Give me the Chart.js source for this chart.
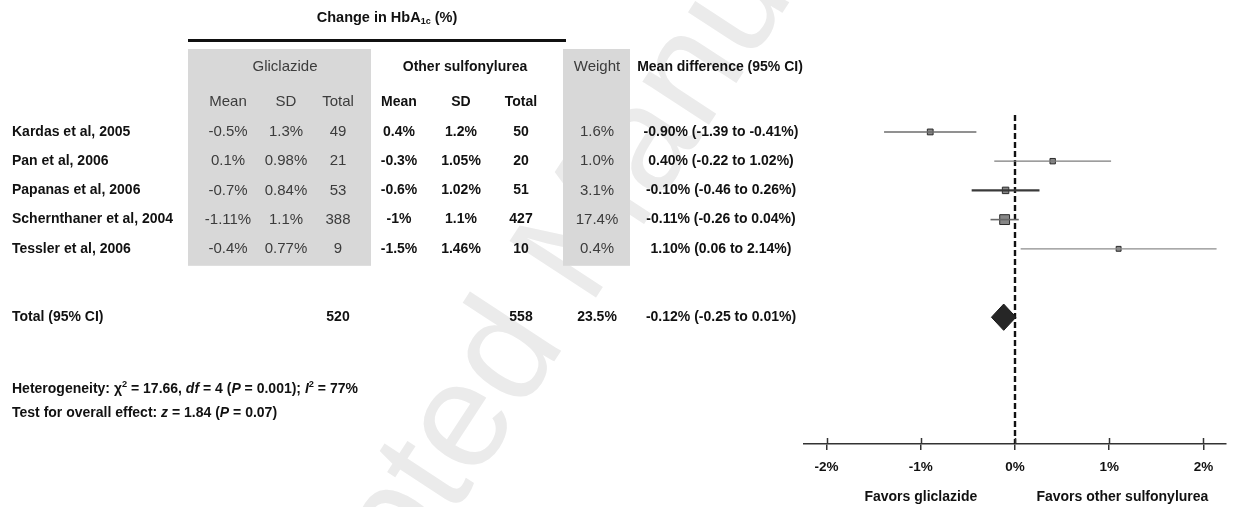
<!DOCTYPE html>
<html>
<head>
<meta charset="utf-8">
<script src="https://cdn.jsdelivr.net/npm/chart.js@4.4.1/dist/chart.umd.min.js"></script>
<style>
  html, body { margin: 0; padding: 0; background: #fff; }
  #wrap { width: 1234px; height: 507px; position: relative; }
</style>
</head>
<body>
<div id="wrap"><canvas id="forest"></canvas></div>
<script>
// ---- study data: change in HbA1c, gliclazide vs other sulfonylurea ----
const studies   = ['Kardas et al, 2005', 'Pan et al, 2006', 'Papanas et al, 2006', 'Schernthaner et al, 2004', 'Tessler et al, 2006'];
const gliMean   = ['-0.5%', '0.1%', '-0.7%', '-1.11%', '-0.4%'];
const gliSd     = ['1.3%', '0.98%', '0.84%', '1.1%', '0.77%'];
const gliTotal  = [49, 21, 53, 388, 9];
const othMean   = ['0.4%', '-0.3%', '-0.6%', '-1%', '-1.5%'];
const othSd     = ['1.2%', '1.05%', '1.02%', '1.1%', '1.46%'];
const othTotal  = [50, 20, 51, 427, 10];
const weights   = [1.6, 1.0, 3.1, 17.4, 0.4];
const meanDiff  = [-0.90, 0.40, -0.10, -0.11, 1.10];
const ciLow     = [-1.39, -0.22, -0.46, -0.26, 0.06];
const ciHigh    = [-0.41, 1.02, 0.26, 0.04, 2.14];
const pooledDiff = -0.12;
const pooledLow  = -0.25;
const pooledHigh = 0.01;
const axisTicks  = [-2, -1, 0, 1, 2];

// ---- layout ----
const FAM = '"Liberation Sans", Arial, Helvetica, sans-serif';
const TOTAL_ROW = 6.34;            // row index of the pooled line
const DIAMOND_HALF = 0.45;         // half height of the pooled diamond, in rows
const COL = { name: 12, gMean: 228, gSd: 286, gTot: 338, oMean: 399, oSd: 461, oTot: 521, weight: 597, md: 721 };
const lineStyle = [
  { color: '#6c6c6c', width: 1.6 },
  { color: '#7c7c7c', width: 1.4 },
  { color: '#3a3a3a', width: 2.2 },
  { color: '#686868', width: 1.6 },
  { color: '#8c8c8c', width: 1.3 }
];

const sum = a => a.reduce((s, v) => s + v, 0);
const f2 = v => v.toFixed(2);
const mdLabel = (m, lo, hi) => `${f2(m)}% (${f2(lo)} to ${f2(hi)}%)`;

// confidence interval segments
const ciSets = studies.map((s, i) => ({
  label: s,
  showLine: true,
  data: [{ x: ciLow[i], y: i }, { x: ciHigh[i], y: i }],
  borderColor: lineStyle[i].color,
  borderWidth: lineStyle[i].width,
  pointRadius: 0
}));

// study estimates, square area grows with weight
const estimateSet = {
  label: 'estimate',
  data: studies.map((s, i) => ({ x: meanDiff[i], y: i })),
  pointStyle: 'rect',
  pointRadius: weights.map(w => (4 + 1.4 * Math.sqrt(w)) / Math.SQRT2),
  backgroundColor: '#878787',
  borderColor: '#2b2b2b',
  borderWidth: 1
};

// pooled estimate diamond
const pooledSet = {
  label: 'pooled',
  showLine: true,
  data: [
    { x: pooledLow, y: TOTAL_ROW },
    { x: pooledDiff, y: TOTAL_ROW - DIAMOND_HALF },
    { x: pooledHigh, y: TOTAL_ROW },
    { x: pooledDiff, y: TOTAL_ROW + DIAMOND_HALF },
    { x: pooledLow, y: TOTAL_ROW }
  ],
  fill: 'shape',
  backgroundColor: '#262626',
  borderColor: '#1a1a1a',
  borderWidth: 1,
  pointRadius: 0,
  tension: 0
};

function put(ctx, s, x, y, font, color, align) {
  ctx.font = font;
  ctx.fillStyle = color;
  ctx.textAlign = align || 'left';
  ctx.textBaseline = 'middle';
  ctx.fillText(s, x, y);
}

// draws runs of text with italic / superscript parts
function runs(ctx, parts, x, y, size, color) {
  ctx.fillStyle = color;
  ctx.textAlign = 'left';
  ctx.textBaseline = 'middle';
  for (const p of parts) {
    const sz = p.sup ? size * 0.66 : size;
    ctx.font = (p.it ? 'italic ' : '') + 'bold ' + sz + 'px ' + FAM;
    ctx.fillText(p.t, x, y + (p.sup ? -size * 0.3 : 0));
    x += ctx.measureText(p.t).width;
  }
}

const B = sz => 'bold ' + sz + 'px ' + FAM;
const N = sz => sz + 'px ' + FAM;

const tablePlugin = {
  id: 'forestTable',
  beforeDraw(chart) {
    const ctx = chart.ctx;
    const y = chart.scales.y;
    ctx.save();
    ctx.fillStyle = '#fff';
    ctx.fillRect(0, 0, chart.width, chart.height);
    // watermark
    ctx.save();
    ctx.translate(224, 866);
    ctx.rotate(-56.8 * Math.PI / 180);
    ctx.font = '150px ' + FAM;
    ctx.fillStyle = '#ebebeb';
    ctx.textBaseline = 'alphabetic';
    ctx.fillText('Accepted Manuscript', 0, 0);
    ctx.restore();
    // shaded column blocks
    const boxBottom = y.getPixelForValue(studies.length - 1) + 17;
    ctx.fillStyle = '#d8d8d8';
    ctx.fillRect(188, 49, 183, boxBottom - 49);
    ctx.fillRect(563, 49, 67, boxBottom - 49);
    ctx.restore();
  },
  beforeDatasetsDraw(chart) {
    const ctx = chart.ctx, x = chart.scales.x, a = chart.chartArea;
    const x0 = x.getPixelForValue(0);
    ctx.save();
    ctx.strokeStyle = '#111';
    ctx.lineWidth = 2.4;
    ctx.setLineDash([6, 3]);
    ctx.beginPath();
    ctx.moveTo(x0, a.top);
    ctx.lineTo(x0, a.bottom);
    ctx.stroke();
    ctx.restore();
  },
  afterDraw(chart) {
    const ctx = chart.ctx, y = chart.scales.y, x = chart.scales.x, a = chart.chartArea;
    ctx.save();
    // upper half of the axis tick marks
    ctx.strokeStyle = '#333';
    ctx.lineWidth = 1.5;
    axisTicks.forEach(v => {
      const px = Math.round(x.getPixelForValue(v)) + 0.5;
      ctx.beginPath();
      ctx.moveTo(px, a.bottom - 6);
      ctx.lineTo(px, a.bottom);
      ctx.stroke();
    });

    // title with subscript
    const tSize = 14.5;
    ctx.font = B(tSize);
    const p1 = 'Change in HbA', p2 = '1c', p3 = ' (%)';
    const w1 = ctx.measureText(p1).width, w3 = ctx.measureText(p3).width;
    ctx.font = B(9);
    const w2 = ctx.measureText(p2).width;
    let tx = 387 - (w1 + w2 + w3) / 2;
    put(ctx, p1, tx, 18, B(tSize), '#111');
    put(ctx, p2, tx + w1, 22, B(9), '#111');
    put(ctx, p3, tx + w1 + w2, 18, B(tSize), '#111');
    ctx.fillStyle = '#111';
    ctx.fillRect(188, 39, 378, 3);

    // column headers
    const grey = '#3c3c3c';
    put(ctx, 'Gliclazide', 285, 67, N(15), grey, 'center');
    put(ctx, 'Other sulfonylurea', 465, 67, B(14), '#111', 'center');
    put(ctx, 'Weight', COL.weight, 67, N(15), grey, 'center');
    put(ctx, 'Mean difference (95% CI)', 720, 67, B(14), '#111', 'center');
    put(ctx, 'Mean', COL.gMean, 102, N(15), grey, 'center');
    put(ctx, 'SD', COL.gSd, 102, N(15), grey, 'center');
    put(ctx, 'Total', COL.gTot, 102, N(15), grey, 'center');
    put(ctx, 'Mean', COL.oMean, 102, B(14), '#111', 'center');
    put(ctx, 'SD', COL.oSd, 102, B(14), '#111', 'center');
    put(ctx, 'Total', COL.oTot, 102, B(14), '#111', 'center');

    // study rows
    studies.forEach((s, i) => {
      const py = y.getPixelForValue(i);
      put(ctx, s, COL.name, py, B(14), '#111');
      put(ctx, gliMean[i], COL.gMean, py, N(15), grey, 'center');
      put(ctx, gliSd[i], COL.gSd, py, N(15), grey, 'center');
      put(ctx, String(gliTotal[i]), COL.gTot, py, N(15), grey, 'center');
      put(ctx, othMean[i], COL.oMean, py, B(14), '#111', 'center');
      put(ctx, othSd[i], COL.oSd, py, B(14), '#111', 'center');
      put(ctx, String(othTotal[i]), COL.oTot, py, B(14), '#111', 'center');
      put(ctx, weights[i].toFixed(1) + '%', COL.weight, py, N(15), grey, 'center');
      put(ctx, mdLabel(meanDiff[i], ciLow[i], ciHigh[i]), COL.md, py, B(14), '#111', 'center');
    });

    // pooled row
    const ty = y.getPixelForValue(TOTAL_ROW);
    put(ctx, 'Total (95% CI)', COL.name, ty, B(14), '#111');
    put(ctx, String(sum(gliTotal)), COL.gTot, ty, B(14), '#111', 'center');
    put(ctx, String(sum(othTotal)), COL.oTot, ty, B(14), '#111', 'center');
    put(ctx, sum(weights).toFixed(1) + '%', COL.weight, ty, B(14), '#111', 'center');
    put(ctx, mdLabel(pooledDiff, pooledLow, pooledHigh), COL.md, ty, B(14), '#111', 'center');

    // heterogeneity and overall effect
    runs(ctx, [
      { t: 'Heterogeneity: \u03C7' }, { t: '2', sup: true }, { t: ' = 17.66, ' },
      { t: 'df', it: true }, { t: ' = 4 (' }, { t: 'P', it: true }, { t: ' = 0.001); ' },
      { t: 'I', it: true }, { t: '2', sup: true }, { t: ' = 77%' }
    ], COL.name, 389, 14, '#111');
    runs(ctx, [
      { t: 'Test for overall effect: ' }, { t: 'z', it: true }, { t: ' = 1.84 (' },
      { t: 'P', it: true }, { t: ' = 0.07)' }
    ], COL.name, 413, 14, '#111');

    // direction labels under the axis
    put(ctx, 'Favors gliclazide', x.getPixelForValue(-1), 497, B(14), '#111', 'center');
    put(ctx, 'Favors other sulfonylurea', x.getPixelForValue(1.14), 497, B(14), '#111', 'center');
    ctx.restore();
  }
};

new Chart(document.getElementById('forest'), {
  type: 'scatter',
  data: { datasets: [...ciSets, estimateSet, pooledSet] },
  options: {
    responsive: true,
    maintainAspectRatio: false,
    animation: false,
    events: [],
    layout: { padding: { top: 115, left: 804, right: 8, bottom: 0 } },
    plugins: { legend: { display: false }, tooltip: { enabled: false }, title: { display: false } },
    scales: {
      x: {
        type: 'linear',
        min: -2.24,
        max: 2.24,
        position: 'bottom',
        afterBuildTicks: s => { s.ticks = axisTicks.map(v => ({ value: v })); },
        afterFit: s => { s.height = 63; },
        ticks: {
          callback: v => v + '%',
          font: { family: FAM, size: 13.5, weight: 'bold' },
          color: '#111',
          padding: 9,
          maxRotation: 0,
          autoSkip: false
        },
        grid: { drawOnChartArea: false, drawTicks: true, tickLength: 6, color: '#333', lineWidth: 1.5 },
        border: { display: true, color: '#333', width: 1.5 }
      },
      y: { type: 'linear', min: -0.58, max: 10.68, reverse: true, display: false }
    }
  },
  plugins: [tablePlugin]
});
</script>
</body>
</html>
